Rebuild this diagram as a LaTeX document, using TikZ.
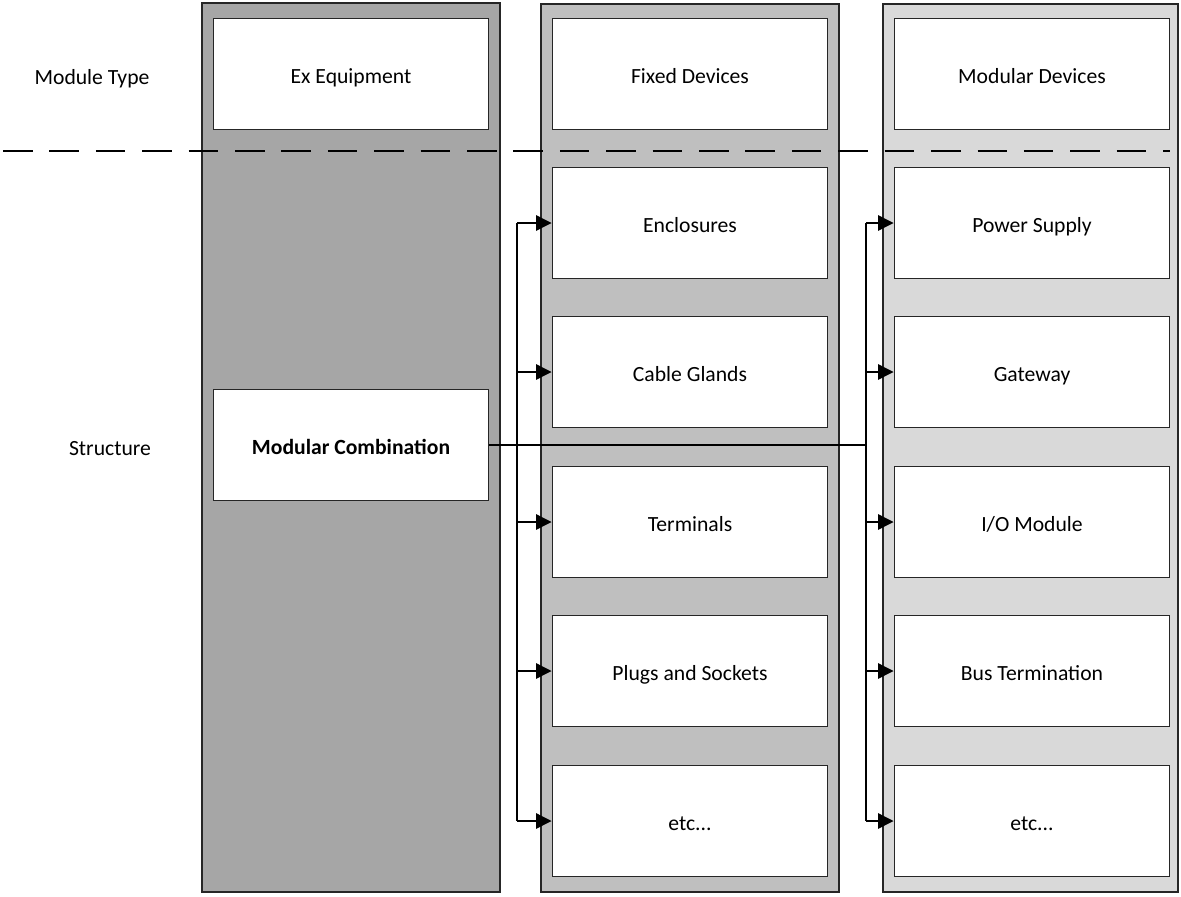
\documentclass[tikz,border=0pt]{standalone}
\usepackage{fontspec}
\setmainfont{Carlito}
\usepackage{tikz}
\usetikzlibrary{arrows.meta}
\definecolor{exgray}{HTML}{A6A6A6}
\definecolor{fixgray}{HTML}{BFBFBF}
\definecolor{modgray}{HTML}{D9D9D9}
\tikzset{
    column/.style={draw=black!85, line width=1.2pt},
    devbox/.style={draw=black!85, fill=white, line width=1.2pt, minimum width=6.88cm, minimum height=2.77cm, inner sep=0pt},
    feed/.style={line width=0.9pt, -{Triangle[length=11pt, width=11pt]}}
}

\begin{document}
\begin{tikzpicture}[x=0.025cm, y=-0.025cm, font=\fontsize{15.4}{18}\selectfont, text height=15pt, text depth=2pt]

                    \useasboundingbox (0,0) rectangle (1181,896);

                    % the three columns
                    \draw[column, fill=exgray] (202,3) rectangle (500,892);
                    \draw[column, fill=fixgray] (541,4) rectangle (839,892);
                    \draw[column, fill=modgray] (883,4) rectangle (1178,892);

                    \draw[line width=1.2pt, dash pattern=on 21pt off 12pt] (3,151) -- (1170,151);

                    \node (type) at (92,75) {Module Type};
                    \node (struct) at (110,446) {Structure};

                    \node[devbox] (ex) at (351,74) {Ex Equipment};
                    \node[devbox] (mc) at (351,445) {\bfseries Modular Combination};

                    \node[devbox] (fixed) at (690,74) {Fixed Devices};
                    \node[devbox] (f1) at (690,223) {Enclosures};
                    \node[devbox] (f2) at (690,372) {Cable Glands};
                    \node[devbox] (f3) at (690,522) {Terminals};
                    \node[devbox] (f4) at (690,671) {Plugs and Sockets};
                    \node[devbox] (f5) at (690,821) {etc...};

                    \node[devbox] (modular) at (1032,74) {Modular Devices};
                    \node[devbox] (m1) at (1032,223) {Power Supply};
                    \node[devbox] (m2) at (1032,372) {Gateway};
                    \node[devbox] (m3) at (1032,522) {I/O Module};
                    \node[devbox] (m4) at (1032,671) {Bus Termination};
                    \node[devbox] (m5) at (1032,821) {etc...};

                    % bus lines
                    \coordinate (fbus) at (517,0);
                    \coordinate (mbus) at (866,0);
                    \draw[line width=0.9pt] (mc.east) -- (mc.east -| mbus);
                    \draw[line width=0.9pt] (f1.west -| fbus) -- (f5.west -| fbus);
                    \draw[line width=0.9pt] (m1.west -| mbus) -- (m5.west -| mbus);

                    \draw[feed] (f1.west -| fbus) -- (f1.west);
                    \draw[feed] (f2.west -| fbus) -- (f2.west);
                    \draw[feed] (f3.west -| fbus) -- (f3.west);
                    \draw[feed] (f4.west -| fbus) -- (f4.west);
                    \draw[feed] (f5.west -| fbus) -- (f5.west);

                    \draw[feed] (m1.west -| mbus) -- (m1.west);
                    \draw[feed] (m2.west -| mbus) -- (m2.west);
                    \draw[feed] (m3.west -| mbus) -- (m3.west);
                    \draw[feed] (m4.west -| mbus) -- (m4.west);
                    \draw[feed] (m5.west -| mbus) -- (m5.west);

\end{tikzpicture}
\end{document}
